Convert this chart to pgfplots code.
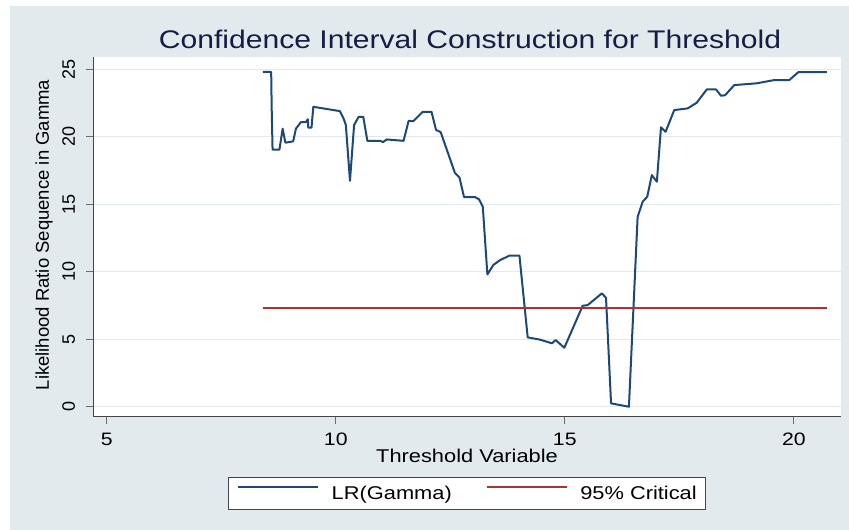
\documentclass[border=0pt]{standalone}
\usepackage{fontspec}
\setmainfont{Liberation Sans}[FakeStretch=1.18]
\newfontfamily\rotfont{Liberation Sans}
\usepackage{pgfplots}
\pgfplotsset{compat=1.18}
\definecolor{bgc}{RGB}{226,234,238}
\definecolor{gridc}{RGB}{226,234,238}
\definecolor{lrblue}{RGB}{30,72,118}
\definecolor{critred}{RGB}{172,50,56}
\definecolor{titlec}{RGB}{22,28,68}
\definecolor{axc}{RGB}{70,70,70}
\begin{document}
\begin{tikzpicture}[x=1pt,y=1pt]
\useasboundingbox (0,0) rectangle (849,530);
\fill[white] (0,0) rectangle (849,530);
\fill[bgc] (10,0) rectangle (849,524);
\begin{axis}[
  at={(93pt,113pt)}, anchor=south west,
  scale only axis, width=748pt, height=360pt,
  xmin=4.70, xmax=21.03, ymin=-0.76, ymax=25.91,
  axis x line*=bottom, axis y line*=left,
  axis line style={-, draw=axc, line width=1pt},
  axis background/.style={fill=white},
  xtick={5,10,15,20}, ytick={0,5,10,15,20,25},
  tick align=outside, major tick length=7pt,
  tick style={draw=axc!80, line width=0.9pt},
  ymajorgrids, grid style={draw=gridc, line width=1.2pt},
  /pgf/number format/assume math mode=true,
  xticklabel style={font=\fontsize{18}{18}\selectfont, anchor=base, yshift=-21.7pt},
  yticklabel style={font=\rotfont\fontsize{18}{18}\selectfont, rotate=90, anchor=base, yshift=11pt},
  title={Confidence Interval Construction for Threshold},
  title style={font=\fontsize{25.5}{25.5}\selectfont, text=titlec, at={([xshift=3pt,yshift=2.5pt]rel axis cs:0.5,1)}, anchor=base, inner sep=0pt},
  xlabel={Threshold Variable},
  xlabel style={font=\fontsize{18.5}{18.5}\selectfont, at={([yshift=-46pt]rel axis cs:0.5,0)}, anchor=base, inner sep=0pt},
  ylabel={Likelihood Ratio Sequence in Gamma},
  ylabel style={font=\rotfont\fontsize{18.5}{18.5}\selectfont, at={([xshift=-44pt,yshift=2pt]rel axis cs:0,0.5)}, anchor=base, inner sep=0pt},
  legend columns=2,
  legend style={at={(0.5,0)}, yshift=-60.2pt, anchor=north, draw=axc, fill=white, line width=0.9pt,
    font=\fontsize{18.5}{18.5}\selectfont, inner xsep=9pt, inner ysep=8.6pt, nodes={inner sep=0pt},
    /tikz/every odd column/.append style={column sep=13pt},
    /tikz/every even column/.append style={column sep=34pt}},
  legend image code/.code={\draw[#1,line width=1.5pt] (0pt,6.5pt) -- (80pt,6.5pt);},
]
\addplot[lrblue, line width=2pt, line join=round] coordinates {
(8.41,24.8) (8.59,24.8) (8.60,22.3) (8.62,19.05) (8.77,19.05) (8.84,20.6) (8.90,19.56)
(9.07,19.66) (9.13,20.6) (9.24,21.09) (9.35,21.09) (9.39,21.3) (9.40,20.67) (9.47,20.67)
(9.51,22.22) (10.09,21.9) (10.17,21.36) (10.22,20.87) (10.31,16.74) (10.40,20.87)
(10.50,21.48) (10.60,21.48) (10.69,19.7) (10.97,19.7) (11.03,19.6) (11.11,19.8)
(11.48,19.7) (11.59,21.18) (11.69,21.15) (11.90,21.85) (12.09,21.85) (12.19,20.5)
(12.29,20.35) (12.60,17.33) (12.70,16.99) (12.80,15.53) (13.04,15.53) (13.13,15.36)
(13.21,14.81) (13.31,9.8) (13.44,10.5) (13.59,10.87) (13.79,11.19) (14.01,11.19)
(14.19,5.14) (14.46,4.97) (14.72,4.7) (14.80,4.94) (14.99,4.37) (15.39,7.48)
(15.50,7.53) (15.81,8.40) (15.90,8.07) (16.01,0.25) (16.40,0.0) (16.59,14.07)
(16.70,15.19) (16.80,15.56) (16.90,17.16) (17.01,16.67) (17.10,20.7) (17.20,20.37)
(17.39,21.98) (17.68,22.1) (17.88,22.52) (18.10,23.51) (18.30,23.51) (18.41,23.04)
(18.50,23.08) (18.70,23.83) (19.19,23.96) (19.57,24.2) (19.90,24.2) (20.10,24.79)
(20.72,24.79)
};
\addlegendentry{LR(Gamma)}
\addplot[critred, line width=2pt] coordinates {(8.41,7.35) (20.72,7.35)};
\addlegendentry{95\% Critical}
\end{axis}
\end{tikzpicture}
\end{document}
